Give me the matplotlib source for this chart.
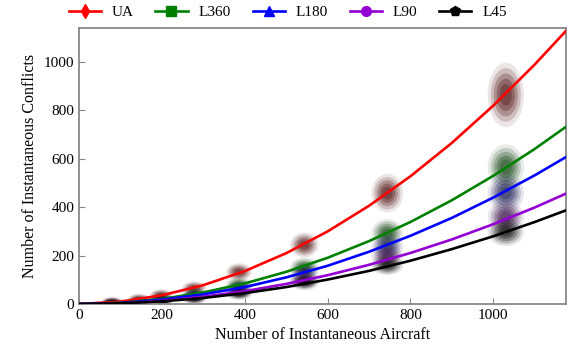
import matplotlib
matplotlib.use("Agg")
import matplotlib.pyplot as plt
from matplotlib.patches import Ellipse

plt.rcParams['font.family'] = ['Liberation Serif', 'DejaVu Serif']

# Fitted curves, values
curve_x = [0, 100, 200, 300, 400, 500, 600, 700, 800, 900, 1000, 1100, 1175]
ua_curve = [0, 10, 36, 78, 136, 210, 300, 406, 528, 666, 820, 990, 1128]
l360_curve = [0, 5, 21, 48, 85, 133, 191, 260, 339, 429, 530, 641, 732]
l180_curve = [0, 4, 18, 40, 70, 110, 158, 216, 282, 356, 440, 532, 607]
l90_curve = [0, 3, 13, 30, 53, 83, 119, 162, 211, 267, 330, 399, 456]
l45_curve = [0, 3, 11, 25, 45, 70, 101, 137, 179, 227, 280, 339, 387]

# Simulation clouds: centre aircraft count and centre conflicts per model
cloud_x = [80, 145, 198, 278, 386, 544, 744, 1030]
ua_cloud = [10, 21, 37, 66, 132, 244, 458, 864]
l360_cloud = [4, 11, 22, 42, 80, 152, 293, 566]
l180_cloud = [3, 9, 18, 35, 66, 128, 238, 459]
l90_cloud = [2, 7, 13, 26, 50, 100, 196, 360]
l45_cloud = [2, 6, 11, 22, 42, 88, 160, 298]

labels = ['UA', 'L360', 'L180', 'L90', 'L45']
line_colors = ['#ff0000', '#008000', '#0000ff', '#9400d3', '#000000']
cloud_colors = ['#4a0808', '#0c3f0c', '#14144f', '#330a45', '#000000']
markers = ['d', 's', '^', 'o', 'p']

curves = [ua_curve, l360_curve, l180_curve, l90_curve, l45_curve]
clouds = [ua_cloud, l360_cloud, l180_cloud, l90_cloud, l45_cloud]

fig = plt.figure(figsize=(5.87, 3.56), dpi=100)
ax = fig.add_axes([0.1346, 0.146, 0.8294, 0.775])

# clouds (fuzzy ellipses)
for cy, cc in zip(clouds, cloud_colors):
    for x, y in zip(cloud_x, cy):
        w = 20 + 0.016 * x
        h = 16 + 0.11 * y
        for s, a in [(1.2, 0.10), (1.0, 0.18), (0.8, 0.25), (0.6, 0.3), (0.4, 0.3)]:
            ax.add_patch(Ellipse((x, y), 2 * w * s, 2 * h * s, facecolor=cc,
                                 edgecolor='none', alpha=a, zorder=2))

for cv, lc, lab, mk in zip(curves, line_colors, labels, markers):
    ax.plot(curve_x, cv, color=lc, lw=1.9, zorder=3)
    ax.plot([], [], color=lc, lw=1.9, marker=mk, markersize=7, label=lab)

ax.set_xlim(0, 1175)
ax.set_ylim(0, 1140)
ax.set_xticks([0, 200, 400, 600, 800, 1000])
ax.set_yticks([0, 200, 400, 600, 800, 1000])
ax.tick_params(direction='in', length=4, color='#888888', labelsize=11,
               top=False, right=False)
for sp in ax.spines.values():
    sp.set_color('#888888')
    sp.set_linewidth(1.3)
ax.set_xlabel('Number of Instantaneous Aircraft', fontsize=11.5)
ax.set_ylabel('Number of Instantaneous Conflicts', fontsize=11.5)

fig.legend(loc='center', bbox_to_anchor=(0.49, 0.965), ncol=5, frameon=False,
           fontsize=11, handlelength=2.1, columnspacing=1.45, handletextpad=0.7,
           borderaxespad=0)

fig.savefig('out.png', dpi=100)
